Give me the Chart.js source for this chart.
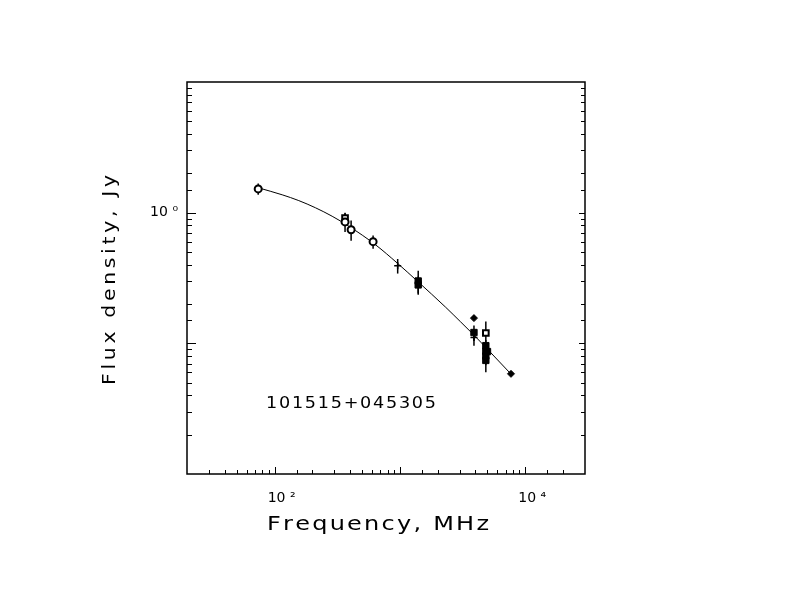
<!DOCTYPE html>
<html>
<head>
<meta charset="utf-8">
<title>101515+045305</title>
<script src="https://cdn.jsdelivr.net/npm/chart.js@4.4.0/dist/chart.umd.min.js"></script>
<style>
  html, body { margin: 0; padding: 0; background: #fff; }
  #spectrum { display: block; }
</style>
</head>
<body>
<canvas id="spectrum" width="792" height="612"></canvas>
<script>
// nome da fonte escrito dentro do quadro
const sourceName = '101515+045305';
const xTitle = 'Frequency, MHz';
const yTitle = 'Flux density, Jy';

// curva ajustada (MHz, Jy)
const curveFreq = [74, 115, 156, 212, 288, 392, 640, 951, 1374, 2317, 3051, 3897, 5130, 7700];
const curveFlux = [1.551, 1.370, 1.237, 1.090, 0.939, 0.787, 0.567, 0.412, 0.300, 0.189, 0.146, 0.1157, 0.0878, 0.0582];

// circulos abertos
const circleFreq = [74, 365, 408, 611];
const circleFlux = [1.52, 0.85, 0.74, 0.60];
const circleErr  = [0.15, 0.14, 0.13, 0.07];

// quadrados abertos
const openSqFreq = [365, 4850];
const openSqFlux = [0.91, 0.120];
const openSqErr  = [0.09, 0.027];

// quadrados cheios
const fillSqFreq = [1400, 1400, 3900, 4850, 4850, 4850, 4850, 5000];
const fillSqFlux = [0.30, 0.28, 0.121, 0.096, 0.087, 0.080, 0.074, 0.0865];
const fillSqErr  = [0.059, 0.045, 0.016, 0.010, 0.010, 0.012, 0.014, 0.008];

// cruzes
const crossFreq = [960, 3900];
const crossFlux = [0.392, 0.111];
const crossErr  = [0.05, 0.015];

// losangos cheios (sem barra de erro)
const diamondFreq = [3900, 7700];
const diamondFlux = [0.156, 0.0584];

// eixos
const xRange = [20, 30000];
const yRange = [0.01, 10];
const xTickValues = [100, 10000];
const xTickText   = ['10 \u00b2', '10 \u2074'];
const yTickValues = [1];
const yTickText   = ['10 \u2070'];

const FONT = '"DejaVu Sans", "Liberation Sans", sans-serif';

const pts = (xs, ys) => xs.map((x, i) => ({ x: x, y: ys[i] }));

function labelFor(values, texts, v) {
  for (let i = 0; i < values.length; i++) {
    if (Math.abs(v - values[i]) / values[i] < 1e-6) return texts[i];
  }
  return '';
}

function isDecade(v) {
  const l = Math.log10(v);
  return Math.abs(l - Math.round(l)) < 1e-6;
}

// barras de erro verticais, atras dos simbolos
const errorBars = {
  id: 'errorBars',
  beforeDatasetsDraw(chart) {
    const { ctx, chartArea, scales: { x, y } } = chart;
    ctx.save();
    ctx.beginPath();
    ctx.rect(chartArea.left, chartArea.top, chartArea.width, chartArea.height);
    ctx.clip();
    ctx.strokeStyle = '#000';
    ctx.lineWidth = 1.5;
    chart.data.datasets.forEach(ds => {
      if (!ds.errors) return;
      ds.data.forEach((p, i) => {
        const e = ds.errors[i];
        const px = x.getPixelForValue(p.x);
        ctx.beginPath();
        ctx.moveTo(px, y.getPixelForValue(p.y + e));
        ctx.lineTo(px, y.getPixelForValue(p.y - e));
        ctx.stroke();
      });
    });
    ctx.restore();
  }
};

// moldura e tracinhos para dentro (sem tracinhos no topo)
const frame = {
  id: 'frame',
  afterDraw(chart) {
    const { ctx, chartArea: a, scales: { x, y } } = chart;
    ctx.save();
    ctx.strokeStyle = '#000';
    ctx.lineWidth = 1.5;
    ctx.strokeRect(a.left, a.top, a.width, a.height);
    ctx.lineWidth = 1;
    ctx.beginPath();
    x.ticks.forEach(t => {
      const px = Math.round(x.getPixelForValue(t.value)) + 0.5;
      if (px <= a.left + 1 || px >= a.right - 1) return;
      const len = isDecade(t.value) ? 7 : 4;
      ctx.moveTo(px, a.bottom);
      ctx.lineTo(px, a.bottom - len);
    });
    y.ticks.forEach(t => {
      const py = Math.round(y.getPixelForValue(t.value)) + 0.5;
      if (py <= a.top + 1 || py >= a.bottom - 1) return;
      const major = isDecade(t.value);
      ctx.moveTo(a.left, py);
      ctx.lineTo(a.left + (major ? 9 : 5), py);
      ctx.moveTo(a.right, py);
      ctx.lineTo(a.right - (major ? 6 : 4), py);
    });
    ctx.stroke();
    ctx.restore();
  }
};

// texto largo: letras esticadas na horizontal + espaco extra
function spacedText(ctx, text, x, y, width, sx) {
  const chars = Array.from(text);
  const natural = chars.reduce((s, c) => s + ctx.measureText(c).width * sx, 0);
  const gap = (width - natural) / (chars.length - 1);
  let cx = x;
  chars.forEach(c => {
    ctx.save();
    ctx.translate(cx, y);
    ctx.scale(sx, 1);
    ctx.fillText(c, 0, 0);
    ctx.restore();
    cx += ctx.measureText(c).width * sx + gap;
  });
}

const labels = {
  id: 'labels',
  afterDraw(chart) {
    const { ctx, chartArea: a } = chart;
    ctx.save();
    ctx.fillStyle = '#000';
    ctx.textBaseline = 'alphabetic';
    ctx.textAlign = 'left';

    ctx.font = '20px ' + FONT;
    spacedText(ctx, xTitle, a.left + 80, a.bottom + 56, 222, 1.2);

    ctx.font = '16px ' + FONT;
    spacedText(ctx, sourceName, a.left + 79, a.top + 326, 170, 1.1);

    ctx.translate(a.left - 72, a.top + 303);
    ctx.rotate(-Math.PI / 2);
    ctx.font = '17px ' + FONT;
    spacedText(ctx, yTitle, 0, 0, 210, 1.2);
    ctx.restore();
  }
};

new Chart(document.getElementById('spectrum'), {
  type: 'scatter',
  data: {
    datasets: [
      {
        data: pts(circleFreq, circleFlux), errors: circleErr,
        pointStyle: 'circle', pointRadius: 3.5,
        backgroundColor: '#fff', borderColor: '#000', borderWidth: 2, order: 1
      },
      {
        data: pts(openSqFreq, openSqFlux), errors: openSqErr,
        pointStyle: 'rect', pointRadius: 4,
        backgroundColor: '#fff', borderColor: '#000', borderWidth: 2, order: 1
      },
      {
        data: pts(fillSqFreq, fillSqFlux), errors: fillSqErr,
        pointStyle: 'rect', pointRadius: 4.5,
        backgroundColor: '#000', borderColor: '#000', borderWidth: 1, order: 1
      },
      {
        data: pts(crossFreq, crossFlux), errors: crossErr,
        pointStyle: 'cross', pointRadius: 3.5,
        backgroundColor: '#000', borderColor: '#000', borderWidth: 1.5, order: 1
      },
      {
        data: pts(diamondFreq, diamondFlux),
        pointStyle: 'rectRot', pointRadius: 3.5,
        backgroundColor: '#000', borderColor: '#000', borderWidth: 1, order: 1
      },
      {
        data: pts(curveFreq, curveFlux),
        showLine: true, pointRadius: 0, borderColor: '#000', borderWidth: 1,
        cubicInterpolationMode: 'monotone', order: 10
      }
    ]
  },
  options: {
    responsive: false,
    animation: false,
    devicePixelRatio: 1,
    layout: { padding: { left: 0, top: 82, right: 207, bottom: 0 } },
    plugins: { legend: { display: false }, tooltip: { enabled: false } },
    scales: {
      x: {
        type: 'logarithmic', min: xRange[0], max: xRange[1],
        grid: { display: false, drawTicks: false }, border: { display: false },
        ticks: {
          autoSkip: false, maxRotation: 0, padding: 16, labelOffset: 7,
          color: '#000', font: { family: FONT, size: 14 },
          callback: v => labelFor(xTickValues, xTickText, v)
        },
        afterFit(scale) { scale.height = 138; }
      },
      y: {
        type: 'logarithmic', min: yRange[0], max: yRange[1],
        grid: { display: false, drawTicks: false }, border: { display: false },
        ticks: {
          autoSkip: false, padding: 9,
          color: '#000', font: { family: FONT, size: 14 },
          callback: v => labelFor(yTickValues, yTickText, v)
        },
        afterFit(scale) { scale.width = 187; }
      }
    }
  },
  plugins: [errorBars, frame, labels]
});
</script>
</body>
</html>
